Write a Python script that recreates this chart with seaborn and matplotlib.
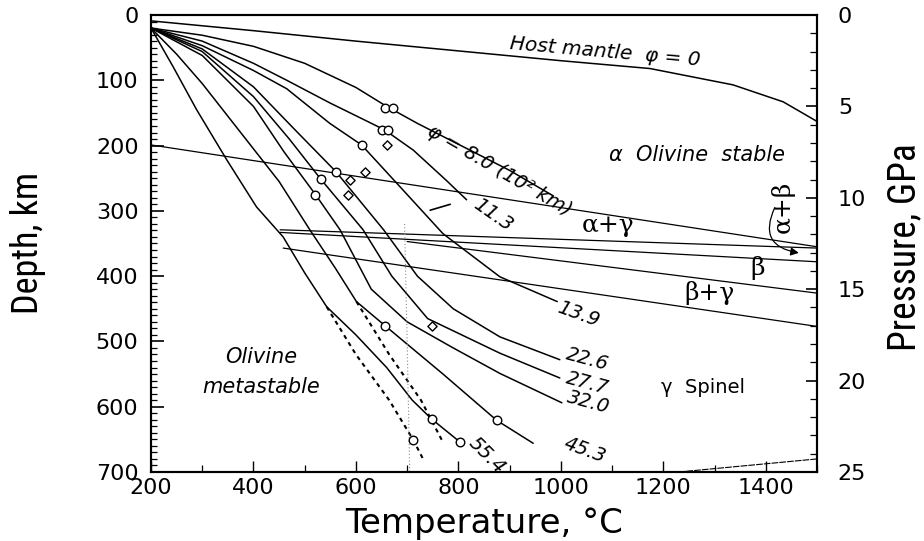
import numpy as np
import pandas as pd
import matplotlib
matplotlib.use("Agg")
import matplotlib.pyplot as plt
import seaborn as sns
from matplotlib.ticker import MultipleLocator

sns.set_theme(style="ticks")
plt.rcParams['font.family'] = ['DejaVu Sans']
for k in ["text.color", "axes.labelcolor", "xtick.color", "ytick.color", "axes.edgecolor"]:
    plt.rcParams[k] = "black"

# ---------------- data (Temperature degC, depth km) ----------------
host_T = [200, 400, 600, 880, 1000, 1174, 1336, 1434, 1500]
host_d = [9, 24, 40, 61, 70, 82, 107, 133, 163]

phi_labels = ["8.0", "11.3", "13.9", "22.6", "27.7", "32.0", "45.3", "55.4"]

c80_T = [200, 300, 400, 500, 600, 660, 720, 810, 900, 985]
c80_d = [20, 31, 48, 74, 111, 140, 166, 202, 238, 277]

c113_T = [200, 300, 400, 465, 550, 620, 656, 712, 776, 816]
c113_d = [20, 40, 74, 100, 135, 162, 176, 207, 253, 283]

c139_T = [200, 300, 400, 465, 549, 611, 700, 770, 881, 993]
c139_d = [20, 47, 85, 113, 166, 199, 275, 335, 401, 439]

c226_T = [200, 300, 400, 480, 561, 654, 720, 790, 881, 998]
c226_d = [20, 52, 110, 175, 240, 329, 400, 450, 493, 528]

c277_T = [200, 300, 400, 470, 531, 614, 670, 740, 881, 998]
c277_d = [20, 56, 125, 190, 251, 329, 400, 465, 518, 556]

c320_T = [200, 300, 400, 460, 521, 569, 630, 700, 790, 881, 1002]
c320_d = [20, 62, 140, 210, 275, 329, 420, 470, 510, 549, 594]

c453_T = [200, 250, 300, 350, 400, 450, 510, 560, 601, 657, 770, 875, 946]
c453_d = [20, 60, 105, 155, 205, 255, 329, 388, 439, 476, 550, 621, 656]

c554_T = [200, 243, 289, 348, 406, 458, 500, 543, 600, 660, 710, 748, 803]
c554_d = [20, 79, 145, 222, 294, 340, 395, 447, 490, 540, 590, 619, 654]

# metastable (dotted) continuations
m453_T = [601, 665, 727, 771]
m453_d = [439, 520, 590, 656]
m554_T = [543, 600, 665, 712, 731]
m554_d = [447, 520, 590, 651, 680]

# phase boundaries
pb_names = ["a_ag", "ag_g", "b_top", "b_bot", "bg_g"]
pb_T = [[200, 1500], [452, 1500], [452, 1500], [700, 1500], [458, 1500]]
pb_d = [[199, 355], [329, 357], [333, 378], [347, 426], [357, 477]]

# observation markers
circ_T = [656, 672, 650, 663, 611, 561, 531, 521, 657, 748, 875, 803, 712]
circ_d = [143, 143, 176, 176, 199, 240, 251, 275, 476, 619, 621, 654, 651]
diam_T = [660, 618, 588, 585, 748]
diam_d = [199, 240, 253, 275, 477]

# label positions for curves (T, depth, rotation)
lab_T = [880, 868, 1034, 1051, 1051, 1053, 1047, 855]
lab_d = [238, 306, 458, 527, 564, 594, 666, 674]
lab_rot = [-30, -35, -20, -15, -15, -15, -20, -45]

# ---------------- build tables ----------------
curves_T = [c80_T, c113_T, c139_T, c226_T, c277_T, c320_T, c453_T, c554_T]
curves_d = [c80_d, c113_d, c139_d, c226_d, c277_d, c320_d, c453_d, c554_d]
rows = []
for name, Ts, ds in zip(["0"] + phi_labels, [host_T] + curves_T, [host_d] + curves_d):
    for i, (t, d) in enumerate(zip(Ts, ds)):
        rows.append({"curve": name, "T": t, "d": d, "i": i})
df = pd.DataFrame(rows)

mrows = []
for name, Ts, ds in zip(["45.3", "55.4"], [m453_T, m554_T], [m453_d, m554_d]):
    for i, (t, d) in enumerate(zip(Ts, ds)):
        mrows.append({"curve": name, "T": t, "d": d, "i": i})
dfm = pd.DataFrame(mrows)

prows = []
for name, Ts, ds in zip(pb_names, pb_T, pb_d):
    for i, (t, d) in enumerate(zip(Ts, ds)):
        prows.append({"curve": name, "T": t, "d": d, "i": i})
dfp = pd.DataFrame(prows)

# ---------------- figure ----------------
fig = plt.figure(figsize=(9.24, 5.41), dpi=100)
ax = fig.add_axes([151/924, 1-472/541, (817-151)/924, (472-15)/541])

sns.lineplot(data=df, x="T", y="d", units="curve", estimator=None, sort=False,
             color="black", lw=1.1, ax=ax, legend=False)
sns.lineplot(data=dfm, x="T", y="d", units="curve", estimator=None, sort=False,
             color="black", lw=1.5, ax=ax, legend=False, linestyle=(0, (2, 2)))
sns.lineplot(data=dfp, x="T", y="d", units="curve", estimator=None, sort=False,
             color="black", lw=0.9, ax=ax, legend=False)

sns.scatterplot(x=circ_T, y=circ_d, marker="o", s=38, facecolor="white",
                edgecolor="black", linewidth=1.0, ax=ax, zorder=5)
sns.scatterplot(x=diam_T, y=diam_d, marker="D", s=22, facecolor="white",
                edgecolor="black", linewidth=1.0, ax=ax, zorder=5)

# faint vertical dotted line near 700 C
ax.plot([695, 700, 705], [320, 500, 700], color="0.55", lw=0.8, ls=(0, (1, 2)))
ax.plot([745, 784], [299, 290], color="black", lw=1.2)
ax.plot([1230, 1500], [700, 680], color="black", lw=0.8, ls=(0, (6, 1)))

# arrow for alpha+beta
ax.annotate("", xy=(1470, 365), xytext=(1420, 291),
            arrowprops=dict(arrowstyle="-|>", color="black", lw=0.9,
                            connectionstyle="arc3,rad=0.7", mutation_scale=12))

ax.set_xlim(200, 1500)
ax.set_ylim(700, 0)
ax.set_xlabel("")
ax.set_ylabel("")
ax.xaxis.set_major_locator(MultipleLocator(200))
ax.xaxis.set_minor_locator(MultipleLocator(100))
ax.yaxis.set_major_locator(MultipleLocator(100))
ax.yaxis.set_minor_locator(MultipleLocator(10))
ax.tick_params(axis="y", which="major", direction="in", length=9, width=1.2,
               labelsize=16, pad=9, left=True, right=False)
ax.tick_params(axis="y", which="minor", direction="in", length=4, width=0.9,
               left=True, right=False)
ax.tick_params(axis="x", which="major", direction="in", length=8, width=1.0,
               labelsize=16, pad=4, bottom=True, top=False)
ax.tick_params(axis="x", which="minor", direction="in", length=5, width=0.9,
               bottom=True, top=False)
for s in ax.spines.values():
    s.set_linewidth(1.5)
    s.set_color("black")

ax2 = ax.twinx()
ax2.set_ylim(25, 0)
ax2.yaxis.set_major_locator(MultipleLocator(5))
ax2.yaxis.set_minor_locator(MultipleLocator(1))
ax2.tick_params(axis="y", which="major", direction="in", length=8, width=1.2,
                labelsize=16, pad=15)
ax2.tick_params(axis="y", which="minor", direction="in", length=5, width=0.9)
for s in ax2.spines.values():
    s.set_linewidth(1.5)
    s.set_color("black")

# curve labels
for lab, t, d, r in zip(phi_labels, lab_T, lab_d, lab_rot):
    txt = lab if lab != "8.0" else "φ = 8.0 (10² km)"
    ax.text(t, d, txt, rotation=r, ha="center", va="center", fontsize=14,
            style="italic", rotation_mode="anchor")

ax.text(1086, 57, "Host mantle  φ = 0", rotation=-5, ha="center", va="center",
        fontsize=14.5, style="italic")
ax.text(1266, 214, "α  Olivine  stable", ha="center", va="center",
        fontsize=15, style="italic")
ax.text(1277, 570, "γ  Spinel", ha="center", va="center", fontsize=14)
ax.text(415, 547, "Olivine\nmetastable", ha="center", va="center",
        fontsize=15, style="italic", linespacing=1.6)
serif = ["DejaVu Serif"]
ax.text(1092, 322, "α+γ", ha="center", va="center", fontsize=18, family=serif)
ax.text(1385, 388, "β", ha="center", va="center", fontsize=18, family=serif)
ax.text(1291, 426, "β+γ", ha="center", va="center", fontsize=18, family=serif)
ax.text(1434, 294, "α+β", ha="center", va="center", fontsize=18, family=serif,
        rotation=90)

narrow = ["Roboto Condensed", "Liberation Sans Narrow", "DejaVu Sans"]
fig.text(28/924, 1-243/541, "Depth, km", rotation=90, ha="center", va="center",
         fontsize=26, family=narrow, fontstretch="condensed")
fig.text(905/924, 1-247/541, "Pressure, GPa", rotation=90, ha="center",
         va="center", fontsize=27, family=narrow, fontstretch="condensed")
fig.text(484/924, 1-523/541, "Temperature, °C", ha="center", va="center",
         fontsize=24.5)

fig.savefig("out.png", dpi=100)
